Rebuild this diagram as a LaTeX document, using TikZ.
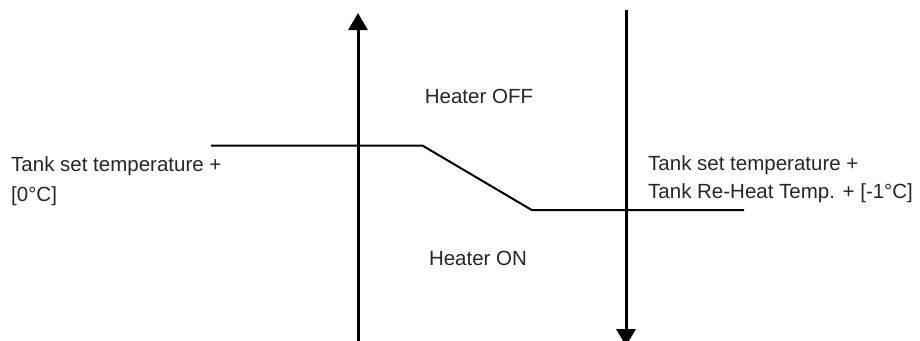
\documentclass[tikz,border=0pt]{standalone}
\usepackage{fontspec}
\setmainfont{Liberation Sans}
\usetikzlibrary{arrows.meta}
\tikzset{
  lbl/.style={inner sep=0pt, anchor=base west, text=black!85, font=\fontsize{20.5}{24}\selectfont},
  clbl/.style={inner sep=0pt, anchor=base, text=black!85, font=\fontsize{20.5}{24}\selectfont},
  axis/.style={line width=3pt, -{Triangle[width=19pt,length=17pt]}},
  curve/.style={line width=2pt}
}
\begin{document}
\begin{tikzpicture}[x=1pt,y=-1pt]
\useasboundingbox (0,0) rectangle (920,340);
% left arrow (upwards)
\coordinate (lb) at (358,345);
\coordinate (lt) at (358,13);
\draw[axis] (lb) -- (lt);
% right arrow (downwards)
\coordinate (rt) at (626,10);
\coordinate (rb) at (626,346);
\draw[axis] (rt) -- (rb);
% characteristic line
\coordinate (p1) at (211,145.7);
\coordinate (p2) at (422.7,145.7);
\coordinate (p3) at (531.7,210);
\coordinate (p4) at (744,210);
\draw[curve] (p1) -- (p2) -- (p3) -- (p4);
% labels
\node[lbl] (l1) at (11,171.5) {Tank set temperature +};
\node[lbl] (l2) at (11,201.5) {[0°C]};
\node[lbl] (r1) at (648,170) {Tank set temperature +};
\node[lbl] (r2) at (648,198) {Tank Re-Heat Temp. + [-1°C]};
\node[clbl] (off) at (479,103) {Heater OFF};
\node[clbl] (on) at (478,265) {Heater ON};
\end{tikzpicture}
\end{document}
